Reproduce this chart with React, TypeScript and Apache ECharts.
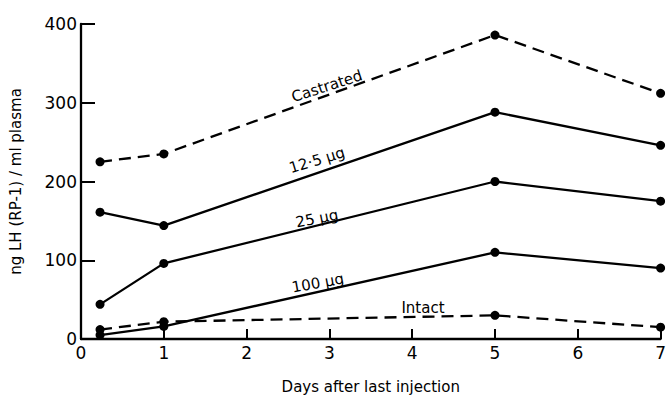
import React, { useEffect, useRef } from "react";
import * as echarts from "echarts";

const days = [0.23, 1, 5, 7];
const castrated = [225, 235, 386, 312];
const ug12_5 = [161, 144, 288, 246];
const ug25 = [44, 96, 200, 175];
const ug100 = [5, 16, 110, 90];
const intact = [12, 22, 30, 15];

const yTicks = [0, 100, 200, 300, 400];

// label annotations: text, data x, data y, rotation (deg)
const labelTexts = ["Castrated", "12·5 µg", "25 µg", "100 µg", "Intact"];
const labelX = [2.97, 2.85, 2.85, 2.86, 4.13];
const labelY = [321, 227, 153, 71, 40];
const labelRot = [18, 17, 11, 10, 0];

const FONT = "DejaVu Sans";

export default function App() {
  const ref = useRef<HTMLDivElement>(null);
  useEffect(() => {
    document.body.style.margin = "0";
    const chart = echarts.init(ref.current!, null, { renderer: "svg" });
    const mk = (name: string, vals: number[], dashed: boolean) => ({
      name,
      type: "line",
      data: days.map((d, i) => [d, vals[i]]),
      symbol: "circle",
      symbolSize: 9,
      itemStyle: { color: "#000" },
      lineStyle: { color: "#000", width: 2.3, type: dashed ? [12, 7] : "solid" },
      clip: false,
    });
    chart.setOption({
      animation: false,
      backgroundColor: "#fff",
      grid: { left: 76, right: 7, top: 24, bottom: 49 },
      xAxis: {
        type: "value",
        min: 0,
        max: 7,
        interval: 1,
        name: "Days after last injection",
        nameLocation: "middle",
        nameGap: 40,
        nameTextStyle: { fontFamily: FONT, fontSize: 15, color: "#000" },
        axisLine: { lineStyle: { color: "#000", width: 2.3 } },
        axisTick: { inside: true, length: 10, lineStyle: { color: "#000", width: 2 } },
        axisLabel: { fontFamily: FONT, fontSize: 17, color: "#000", margin: 5 },
        splitLine: { show: false },
      },
      yAxis: {
        type: "value",
        min: yTicks[0],
        max: yTicks[yTicks.length - 1],
        interval: 100,
        name: "ng LH (RP-1) / ml plasma",
        nameLocation: "middle",
        nameGap: 58,
        nameTextStyle: { fontFamily: FONT, fontSize: 15, color: "#000" },
        axisLine: { show: true, lineStyle: { color: "#000", width: 2.3 } },
        axisTick: { show: true, inside: true, length: 14, lineStyle: { color: "#000", width: 2 } },
        axisLabel: { fontFamily: FONT, fontSize: 17, color: "#000", margin: 4 },
        splitLine: { show: false },
      },
      series: [
        mk("Castrated", castrated, true),
        mk("12.5 µg", ug12_5, false),
        mk("25 µg", ug25, false),
        mk("100 µg", ug100, false),
        mk("Intact", intact, true),
      ],
    });
    const graphics = labelTexts.map((t, i) => {
      const p = chart.convertToPixel({ gridIndex: 0 }, [labelX[i], labelY[i]]) as number[];
      return {
        type: "text",
        x: p[0],
        y: p[1],
        rotation: (labelRot[i] * Math.PI) / 180,
        style: {
          text: t,
          fontFamily: FONT,
          fontSize: 15,
          fill: "#000",
          align: "center",
          verticalAlign: "middle",
        },
      };
    });
    chart.setOption({ graphic: graphics });
    return () => chart.dispose();
  }, []);
  return <div ref={ref} style={{ width: 669, height: 399 }} />;
}
